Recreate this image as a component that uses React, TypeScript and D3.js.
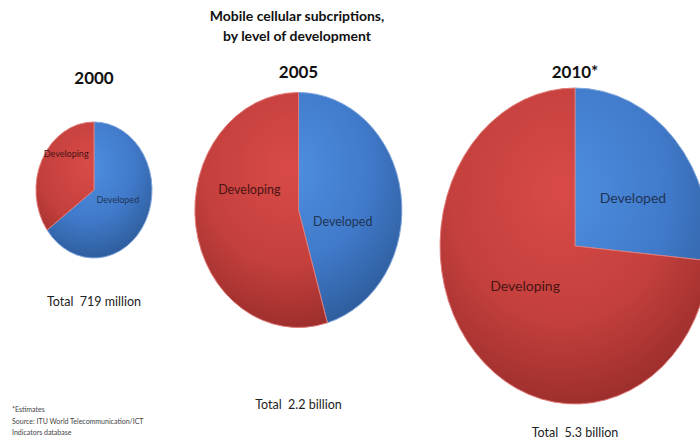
import React from "react";
import * as d3 from "d3";

const title = ["Mobile cellular subcriptions,", "by level of development"];
const years = ["2000", "2005", "2010*"];
const totals = ["Total  719 million", "Total  2.2 billion", "Total  5.3 billion"];
const categories = ["Developed", "Developing"];
const developedShare = [65, 45.5, 26.5];
const developingShare = [35, 54.5, 73.5];
const footnotes = ["*Estimates", "Source: ITU World Telecommunication/ICT", "Indicators database"];

// layout (not data)
const layout = [
  { cx: 94, cy: 190, rx: 58, ry: 68, yearY: 84, totalY: 306, labelSize: 9, dev: [-2, -5], dvg: [-2, -20] },
  { cx: 298.5, cy: 210, rx: 103.5, ry: 117.5, yearY: 78, totalY: 409, labelSize: 12.5, dev: [-7, 21], dvg: [2, -27] },
  { cx: 575, cy: 246, rx: 135, ry: 158, yearY: 78, totalY: 437, labelSize: 14, dev: [8, 7], dvg: [0, -12] },
];

const FONT = "Lato, 'Open Sans', sans-serif";

export default function App() {
  const pie = d3.pie<number>().sort(null).value((d) => d);
  const arc = d3.arc<d3.PieArcDatum<number>>().innerRadius(0).outerRadius(1);
  const fills = ["url(#gBlue)", "url(#gRed)"];
  const textColors = ["#1f3455", "#4a1414"];
  return (
    <svg width={700} height={441} style={{ position: "absolute", left: 0, top: 0, background: "#fff" }}>
      <defs>
        <radialGradient id="gBlue" gradientUnits="userSpaceOnUse" cx={-0.1} cy={-0.35} r={1.35}>
          <stop offset="0%" stopColor="#4f8fe0" />
          <stop offset="60%" stopColor="#4079c9" />
          <stop offset="100%" stopColor="#2f5e9e" />
        </radialGradient>
        <radialGradient id="gRed" gradientUnits="userSpaceOnUse" cx={-0.1} cy={-0.35} r={1.35}>
          <stop offset="0%" stopColor="#d84a47" />
          <stop offset="60%" stopColor="#c4403d" />
          <stop offset="100%" stopColor="#9e2f2d" />
        </radialGradient>
      </defs>
      <text x={297} y={21} textAnchor="middle" fontFamily={FONT} fontWeight="bold" fontSize={14} fill="#111">
        {title[0]}
      </text>
      <text x={297} y={41} textAnchor="middle" fontFamily={FONT} fontWeight="bold" fontSize={14} fill="#111">
        {title[1]}
      </text>
      {years.map((year, i) => {
        const L = layout[i];
        const arcs = pie([developedShare[i], developingShare[i]]);
        const offs = [L.dev, L.dvg];
        return (
          <g key={year}>
            <text x={L.cx} y={L.yearY} textAnchor="middle" fontFamily={FONT} fontWeight="bold" fontSize={17} fill="#111">
              {year}
            </text>
            <g transform={`translate(${L.cx},${L.cy}) scale(${L.rx},${L.ry})`}>
              {arcs.map((a, j) => (
                <path
                  key={j}
                  d={arc(a) || ""}
                  fill={fills[j]}
                  stroke={j === 0 ? "#7fa6dc" : "#e07a78"}
                  strokeWidth={1}
                  vectorEffect="non-scaling-stroke"
                />
              ))}
            </g>
            {arcs.map((a, j) => {
              const [x, y] = arc.centroid(a);
              return (
                <text
                  key={"l" + j}
                  x={L.cx + x * L.rx + offs[j][0]}
                  y={L.cy + y * L.ry + offs[j][1]}
                  textAnchor="middle"
                  dominantBaseline="middle"
                  fontFamily={FONT}
                  fontSize={L.labelSize}
                  fill={textColors[j]}
                >
                  {categories[j]}
                </text>
              );
            })}
            <text
              x={L.cx}
              y={L.totalY}
              textAnchor="middle"
              fontFamily={FONT}
              fontSize={12.5}
              fill="#222"
              style={{ whiteSpace: "pre" }}
            >
              {totals[i]}
            </text>
          </g>
        );
      })}
      {footnotes.map((f, i) => (
        <text key={f} x={12} y={412 + i * 11.5} fontFamily={FONT} fontSize={7} fill="#444">
          {f}
        </text>
      ))}
    </svg>
  );
}
